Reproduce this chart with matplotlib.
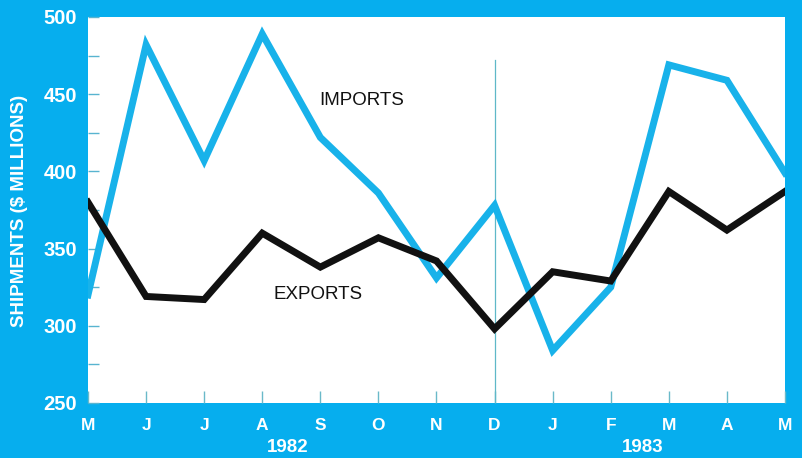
import numpy as np
import matplotlib.pyplot as plt

months = ['M', 'J', 'J', 'A', 'S', 'O', 'N', 'D', 'J', 'F', 'M', 'A', 'M']
imports = [320, 482, 407, 489, 422, 386, 331, 378, 284, 325, 469, 459, 399]
exports = [380, 319, 317, 360, 338, 357, 342, 298, 335, 329, 387, 362, 387]
years = ['1982', '1983']
year_pos = [3.44, 9.55]
yticks = [250, 300, 350, 400, 450, 500]

bg = '#06aeee'
line_blue = '#18b2ea'

plt.rcParams['font.family'] = ['Liberation Sans', 'DejaVu Sans']

fig = plt.figure(figsize=(8.03, 4.58), dpi=100, facecolor=bg)
ax = fig.add_axes([88 / 803, 55 / 458, 697 / 803, 386 / 458])
ax.set_facecolor('white')

x = np.arange(len(months))
ax.plot(x, imports, color=line_blue, lw=5, solid_joinstyle='miter', zorder=3)
ax.plot(x, exports, color='#111111', lw=5, solid_joinstyle='miter', zorder=4)

# divider between the two years
ax.plot([7, 7], [250, 472], color='#5fb8c8', lw=0.9, zorder=2)

ax.set_xlim(0, 12)
ax.set_ylim(250, 500)
for s in ax.spines.values():
    s.set_visible(False)

ax.set_xticks(x)
ax.set_xticklabels(months, color='white', fontsize=12.5, fontweight='bold')
ax.set_yticks(yticks)
ax.set_yticklabels([str(v) for v in yticks], color='white', fontsize=14.5, fontweight='bold')
ax.set_yticks(np.arange(275, 500, 50), minor=True)
ax.tick_params(axis='x', direction='in', length=9, width=1, color='#6ab9c9', pad=11)
ax.tick_params(axis='y', which='both', direction='in', length=8, width=1,
               color='#58b4d0', pad=8)

for yr, xp in zip(years, year_pos):
    ax.text(xp, -0.115, yr, transform=ax.get_xaxis_transform(), ha='center', va='center',
            color='white', fontsize=13.5, fontweight='bold')

ax.text(4.72, 446, 'IMPORTS', ha='center', va='center', fontsize=13.5, color='#111111')
ax.text(3.96, 320, 'EXPORTS', ha='center', va='center', fontsize=13.5, color='#111111')

fig.text(20 / 803, 1 - 211 / 458, 'SHIPMENTS ($ MILLIONS)', rotation=90, ha='center',
         va='center', color='white', fontsize=13.5, fontweight='bold')

fig.savefig('out.png', dpi=100, facecolor=bg)
